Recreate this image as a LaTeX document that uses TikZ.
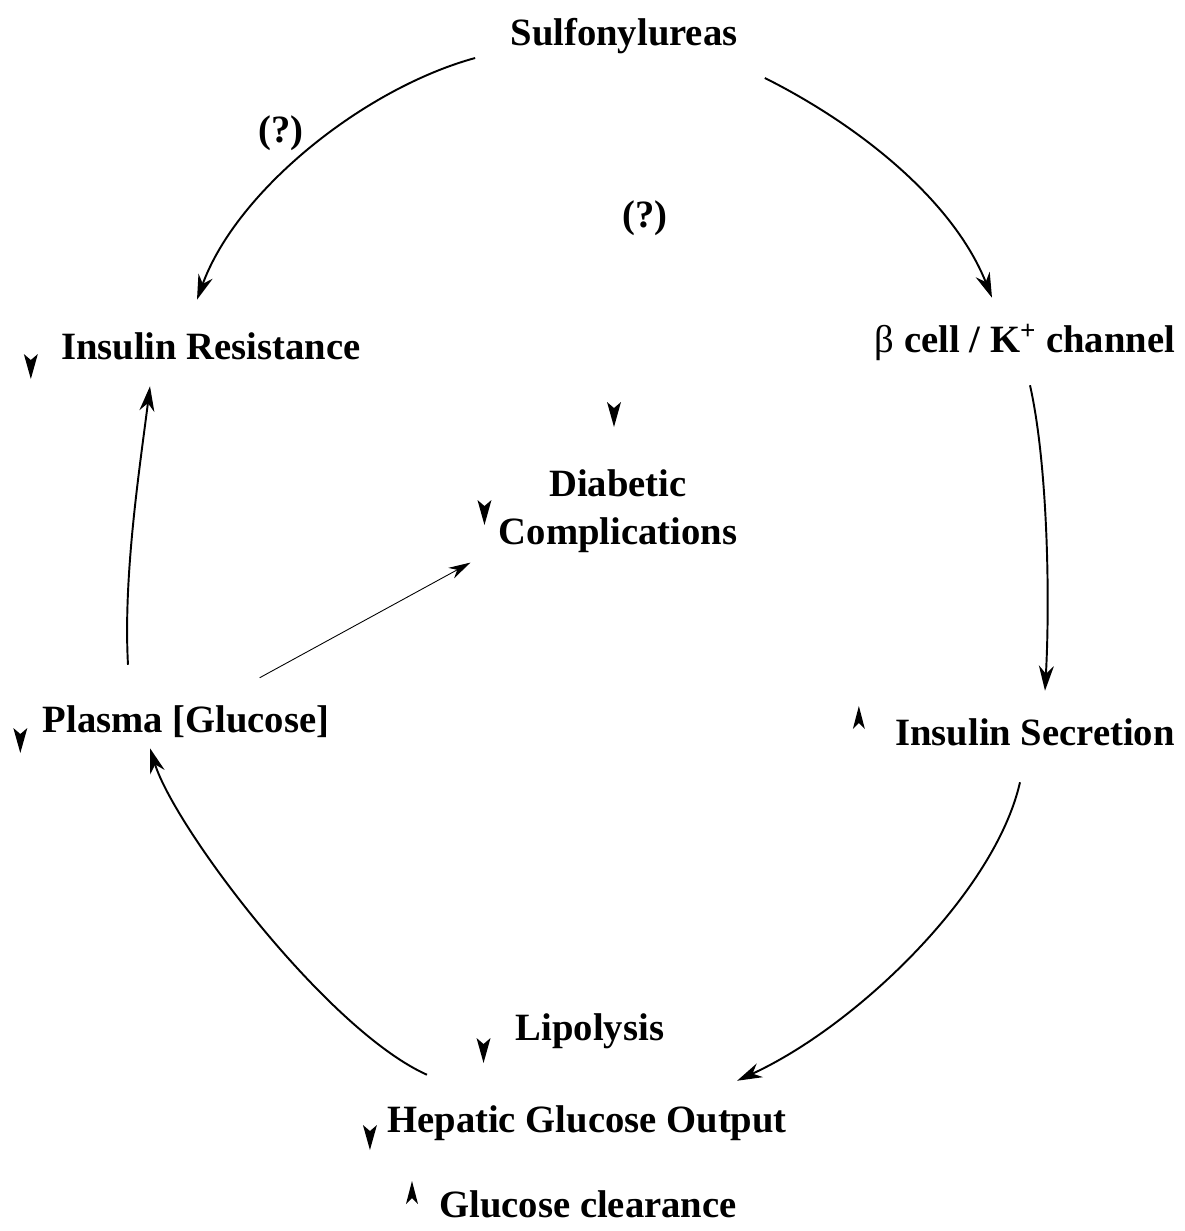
\documentclass[tikz,border=0pt]{standalone}
\usepackage{fontspec}
\setmainfont{Liberation Serif}
\usetikzlibrary{arrows.meta}

\begin{document}
\begin{tikzpicture}[x=0.02cm, y=-0.02cm]
        \tikzstyle{every node}=[inner sep=0pt, font=\bfseries\fontsize{22}{27}\selectfont, text height=7pt, text depth=2pt]
        \tikzstyle{flow}=[-{Stealth[length=5mm, width=3mm, inset=1.6mm]}, line width=1.1pt]
        \tikzstyle{thinflow}=[-{Stealth[length=4.4mm, width=2.4mm, inset=1.4mm]}, line width=0.5pt]
        \tikzset{dnmark/.pic={\fill (0,13) -- (-7,-12) -- (0,-6) -- (7,-12) -- cycle;},
                 upmark/.pic={\fill (0,-12) -- (-6,11) -- (0,5) -- (6,11) -- cycle;}}
        \useasboundingbox (0,0) rectangle (1185,1231);
        % nodes
        \node (sulf) at (624,41) {Sulfonylureas};
        \node (qleft) at (281,138) {(?)};
        \node (qmid) at (645,223) {(?)};
        \node (res) at (211,355) {Insulin Resistance};
        \node (beta) at (1025,348) {{\mdseries β} cell / K\textsuperscript{+} channel};
        \node (diab) [align=center, text height=, text depth=] at (618,511) {Diabetic\\Complications};
        \node (plasma) at (186,728) {Plasma [Glucose]};
        \node (secr) at (1035,741) {Insulin Secretion};
        \node (lipo) at (590,1036) {Lipolysis};
        \node (hep) at (587,1128) {Hepatic Glucose Output};
        \node (clear) at (588,1213) {Glucose clearance};
        % up / down marks
        \pic at ([shift={(-30,11)}]res.west) {dnmark};
        \pic at (614,414) {dnmark};
        \pic at ([shift={(-14,1)}]diab.west) {dnmark};
        \pic at ([shift={(-22,12)}]plasma.west) {dnmark};
        \pic at ([shift={(-36,-23)}]secr.west) {upmark};
        \pic at ([shift={(-32,14)}]lipo.west) {dnmark};
        \pic at ([shift={(-17,9)}]hep.west) {dnmark};
        \pic at ([shift={(-27,-20)}]clear.west) {upmark};
        % connectors
        \draw[flow] ([shift={(-35,17)}]sulf.west) .. controls +(-110,30) and +(40,-110) .. ([shift={(-14,-47)}]res.north);
        \draw[flow] ([shift={(27,37)}]sulf.east) .. controls +(90,45) and +(-40,-100) .. ([shift={(-33,-42)}]beta.north);
        \draw[flow] ([shift={(5,29)}]beta.south) .. controls +(18,80) and +(5,-90) .. ([shift={(10,-42)}]secr.north);
        \draw[flow] ([shift={(-15,33)}]secr.south) .. controls +(-25,110) and +(120,-55) .. ([shift={(-50,-39)}]hep.north east);
        \draw[flow] ([shift={(40,-45)}]hep.north west) .. controls +(-100,-45) and +(25,80) .. ([shift={(-36,12)}]plasma.south);
        \draw[flow] ([shift={(-58,-55)}]plasma.north) .. controls +(-5,-90) and +(-10,80) .. ([shift={(-61,23)}]res.south);
        \draw[thinflow] ([shift={(-70,-42)}]plasma.north east) -- ([shift={(-28,10)}]diab.south west);
\end{tikzpicture}
\end{document}
